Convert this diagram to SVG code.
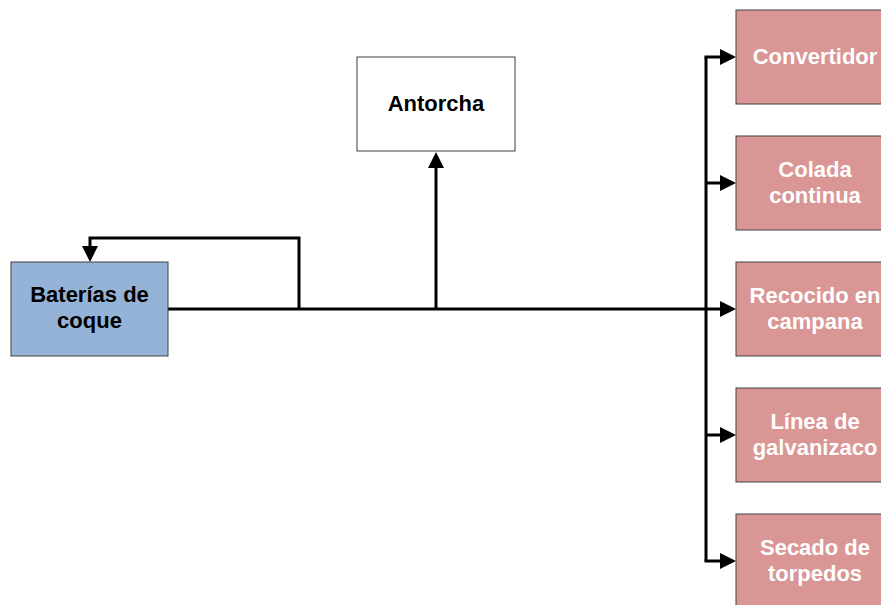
<svg xmlns="http://www.w3.org/2000/svg" width="881" height="605" viewBox="0 0 881 605">
<style>
.box{stroke:#404040;stroke-width:1}
.blue{fill:#95B3D7}
.red{fill:#D99694}
.white{fill:#FFFFFF}
.t{font-family:"Liberation Sans",Arial,sans-serif;font-weight:bold;font-size:22px;text-anchor:middle}
.dark{fill:#000000}
.light{fill:#FFFFFF}
.c{fill:none;stroke:#000000;stroke-width:3}
</style>
<defs>
<marker id="ah" markerUnits="userSpaceOnUse" markerWidth="16" markerHeight="16" viewBox="0 0 16 16" refX="0" refY="8" orient="auto">
<path d="M0,0 L16,8 L0,16 Z" fill="#000000"/>
</marker>
</defs>
<rect width="881" height="605" fill="#FFFFFF"/>
<g id="connectors">
<path class="c" d="M168,309 H720" marker-end="url(#ah)"/>
<path class="c" d="M299,309 V238 H90 V246" marker-end="url(#ah)"/>
<path class="c" d="M436,309 V168" marker-end="url(#ah)"/>
<path class="c" d="M706,57 V561"/>
<path class="c" d="M704.5,57 H720" marker-end="url(#ah)"/>
<path class="c" d="M706,183 H720" marker-end="url(#ah)"/>
<path class="c" d="M706,435 H720" marker-end="url(#ah)"/>
<path class="c" d="M704.5,561 H720" marker-end="url(#ah)"/>
</g>
<g id="baterias">
<rect class="box blue" x="11" y="262" width="157" height="94"/>
<text class="t dark" x="89.5" y="302">Baterías de</text>
<text class="t dark" x="89.5" y="328">coque</text>
</g>
<g id="antorcha">
<rect class="box white" x="357" y="57" width="158" height="94"/>
<text class="t dark" x="436" y="111">Antorcha</text>
</g>
<g id="convertidor">
<rect class="box red" x="736" y="10" width="158" height="94"/>
<text class="t light" x="815" y="64">Convertidor</text>
</g>
<g id="colada">
<rect class="box red" x="736" y="136" width="158" height="94"/>
<text class="t light" x="815" y="177">Colada</text>
<text class="t light" x="815" y="203">continua</text>
</g>
<g id="recocido">
<rect class="box red" x="736" y="262" width="158" height="94"/>
<text class="t light" x="815" y="303">Recocido en</text>
<text class="t light" x="815" y="329">campana</text>
</g>
<g id="linea">
<rect class="box red" x="736" y="388" width="158" height="94"/>
<text class="t light" x="815" y="429">Línea de</text>
<text class="t light" x="815" y="455">galvanizaco</text>
</g>
<g id="secado">
<rect class="box red" x="736" y="514" width="158" height="94"/>
<text class="t light" x="815" y="555">Secado de</text>
<text class="t light" x="815" y="581">torpedos</text>
</g>
</svg>
